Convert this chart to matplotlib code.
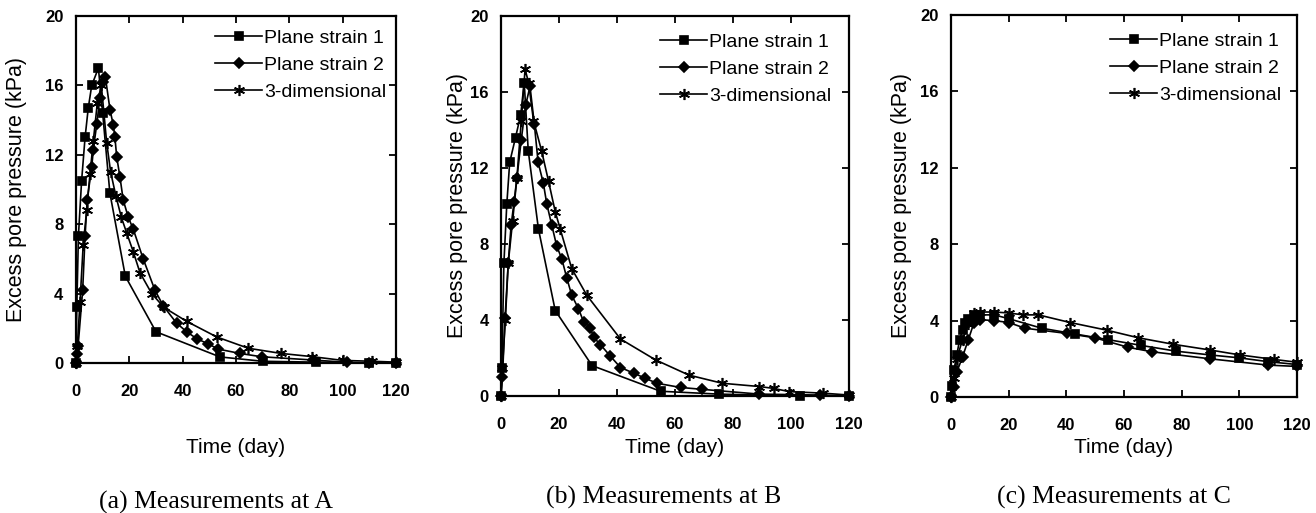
import matplotlib
matplotlib.use('Agg')
import matplotlib.pyplot as plt

plt.rcParams['font.family'] = ['Liberation Sans', 'DejaVu Sans']

# ── data ────────────────────────────────────────────────────────────────────
SERIES = ['Plane strain 1', 'Plane strain 2', '3-dimensional']

# (a) Measurements at A
a_ps1_t = [0, 0.3, 0.9, 2.1, 3.4, 4.6, 5.9, 8.4, 10.0, 12.7, 18.5, 30, 54, 70, 90, 110, 120]
a_ps1_u = [0, 3.2, 7.3, 10.5, 13.0, 14.7, 16.0, 17.0, 14.4, 9.8, 5.0, 1.8, 0.35, 0.1, 0.05, 0, 0]
a_ps2_t = [0, 0.3, 0.8, 2.5, 3.4, 4.2, 5.9, 6.5, 7.8, 9.0, 10.2, 11.0, 12.75, 14.0, 14.6, 15.25,
           16.5, 17.7, 19.6, 21.5, 25.2, 29.6, 32.7, 37.7, 41.5, 45.3, 49.6, 53.4, 61.5, 69.6,
           89, 101.5, 110, 120]
a_ps2_u = [0, 0.5, 1.0, 4.2, 7.3, 9.4, 11.3, 12.3, 13.8, 15.3, 16.2, 16.5, 14.6, 13.7, 13.0, 11.9,
           10.7, 9.4, 8.4, 7.7, 6.0, 4.2, 3.3, 2.3, 1.8, 1.4, 1.1, 0.8, 0.55, 0.36,
           0.17, 0.04, 0, 0]
a_3d_t = [0, 0.5, 1.5, 2.7, 4, 5.25, 6.5, 8, 9.5, 11.5, 13, 15, 17, 19, 21.5, 24, 28.4, 33,
          41.5, 52.8, 64.6, 77, 88.4, 100, 111, 120]
a_3d_u = [0, 1.0, 3.5, 6.8, 8.8, 10.9, 12.8, 15.0, 16.0, 12.7, 11.0, 9.6, 8.4, 7.5, 6.4, 5.2, 4.0, 3.2,
          2.4, 1.5, 0.85, 0.55, 0.37, 0.15, 0.1, 0.05]

# (b) Measurements at B
b_ps1_t = [0, 0.3, 1, 2, 3, 5, 6.8, 8, 9.4, 12.9, 18.7, 31.4, 55, 75, 103, 120]
b_ps1_u = [0, 1.5, 7.0, 10.1, 12.3, 13.6, 14.8, 16.5, 12.9, 8.8, 4.5, 1.6, 0.25, 0.1, 0, 0]
b_ps2_t = [0, 0.5, 1.4, 2.5, 3.5, 4.5, 5.5, 7, 8.5, 10, 11.5, 12.8, 14.6, 15.8, 17.5, 19.2, 21,
           22.7, 24.4, 26.7, 28.5, 30.8, 31.9, 34.3, 37.7, 41.2, 45.8, 49.8, 53.8, 61.9, 69.4,
           89, 110, 120]
b_ps2_u = [0, 1.0, 4.1, 7.0, 9.0, 10.2, 11.5, 13.5, 15.3, 16.3, 14.3, 12.3, 11.2, 10.1, 9.0, 7.9, 7.2,
           6.2, 5.3, 4.6, 3.9, 3.6, 3.1, 2.7, 2.1, 1.5, 1.2, 0.93, 0.67, 0.45, 0.35,
           0.1, 0.05, 0]
b_3d_t = [0, 0.5, 1.5, 2.5, 4, 5.5, 7, 8.3, 9.5, 11.2, 14, 16.4, 18.7, 20.4, 24.4, 29.6, 41.2,
          53.3, 64.8, 76.3, 89, 94, 99.4, 111, 120]
b_3d_u = [0, 1.5, 4.0, 7.0, 9.2, 11.5, 14.5, 17.2, 16.5, 14.5, 12.9, 11.3, 9.7, 8.8, 6.7, 5.3, 3.0,
          1.9, 1.1, 0.67, 0.5, 0.4, 0.23, 0.15, 0.05]

# (c) Measurements at C
c_ps1_t = [0, 0.5, 1, 2, 3, 4, 5, 6, 8, 10, 15, 20, 31.5, 43, 54.6, 66, 78, 90, 100, 110, 120]
c_ps1_u = [0, 0.6, 1.4, 2.2, 3.0, 3.5, 3.9, 4.1, 4.3, 4.3, 4.3, 4.1, 3.6, 3.3, 3.0, 2.7, 2.4, 2.2, 2.05, 1.85, 1.7]
c_ps2_t = [0, 1, 2, 4, 6, 8, 10, 15, 20, 25.7, 40.1, 49.9, 61.5, 69.6, 89.8, 110, 120]
c_ps2_u = [0, 0.5, 1.3, 2.1, 3.0, 3.9, 4.05, 4.0, 3.9, 3.6, 3.33, 3.1, 2.6, 2.37, 2.0, 1.67, 1.6]
c_3d_t = [0, 1, 2, 4, 6, 8, 10, 15, 20, 25, 30.3, 41.3, 54, 65, 77.1, 89.9, 100.3, 111.9, 120]
c_3d_u = [0, 1.0, 2.0, 3.0, 3.8, 4.4, 4.45, 4.45, 4.4, 4.3, 4.3, 3.9, 3.5, 3.1, 2.76, 2.46, 2.2, 1.97, 1.82]

PANELS = [
    ('(a) Measurements at A', [(a_ps1_t, a_ps1_u), (a_ps2_t, a_ps2_u), (a_3d_t, a_3d_u)]),
    ('(b) Measurements at B', [(b_ps1_t, b_ps1_u), (b_ps2_t, b_ps2_u), (b_3d_t, b_3d_u)]),
    ('(c) Measurements at C', [(c_ps1_t, c_ps1_u), (c_ps2_t, c_ps2_u), (c_3d_t, c_3d_u)]),
]

# ── layout (pixels -> figure fractions) ──────────────────────────────────────
W, H = 1316, 513
boxes = [(76, 396, 16, 363), (501, 849, 16, 396), (951, 1297, 15, 397)]   # px: l, r, t, b
ylab_x = [27, 468, 912]
xlab_top = 438
cap_x = [216, 664, 1114]
cap_y = [502, 497, 497]
leg_top = [29, 33, 32]
leg_right = [386, 831, 1281]

markers = ['s', 'D', (6, 2, 0)]
msizes = [5.5, 5, 8]

fig = plt.figure(figsize=(W / 100, H / 100), dpi=100)

for (caption, series), (l, r, t, b), yx, cx, cy, lt, lr in zip(PANELS, boxes, ylab_x, cap_x,
                                                              cap_y, leg_top, leg_right):
    ax = fig.add_axes([l / W, 1 - b / H, (r - l) / W, (b - t) / H])
    for (x, y), lab, mk, ms in zip(series, SERIES, markers, msizes):
        ax.plot(x, y, color='k', linewidth=1.2, marker=mk, markersize=ms,
                markeredgewidth=1.2, label=lab, clip_on=False, zorder=3)
    ax.set_xlim(0, 120)
    ax.set_ylim(0, 20)
    ax.set_xticks(range(0, 121, 20))
    ax.set_yticks(range(0, 21, 4))
    ax.tick_params(direction='in', top=True, right=True, length=5, width=1.3,
                   labelsize=12)
    ax.tick_params(axis='x', pad=15)
    ax.tick_params(axis='y', pad=9)
    for lbl in ax.get_xticklabels() + ax.get_yticklabels():
        lbl.set_fontweight('bold')
    for sp in ax.spines.values():
        sp.set_linewidth(1.6)

    ax.set_ylabel('Excess pore pressure (kPa)', fontsize=15.5)
    ax.yaxis.set_label_coords((yx - l) / (r - l), 0.5)
    ax.set_xlabel('Time (day)', fontsize=15, va='top')
    ax.xaxis.set_label_coords(0.5, (b - xlab_top) / (b - t))

    ax.legend(loc='upper right',
              bbox_to_anchor=((lr - l) / (r - l), 1 - (lt - t) / (b - t)), frameon=False,
              fontsize=14, handlelength=2.4, handletextpad=0.1, labelspacing=0.5,
              borderaxespad=0.0, borderpad=0.0)

    fig.text(cx / W, 1 - cy / H, caption, ha='center', va='center',
             fontsize=18.5, family='Liberation Serif')

fig.savefig('out.png', dpi=100)
